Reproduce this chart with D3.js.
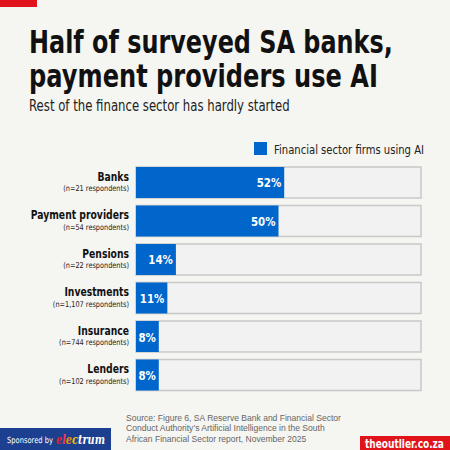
<!DOCTYPE html>
<html>
<head>
<meta charset="utf-8">
<script src="https://cdn.jsdelivr.net/npm/d3@7"></script>
<style>
  body { margin: 0; background: #f5f5f1; }
  svg { display: block; }
  text { font-family: "DejaVu Sans", sans-serif; }
</style>
</head>
<body>
<div id="chart"></div>
<script>
const W = 450, H = 450;

// data
const sectors = ["Banks", "Payment providers", "Pensions", "Investments", "Insurance", "Lenders"];
const respondents = ["n=21 respondents", "n=54 respondents", "n=22 respondents", "n=1,107 respondents", "n=744 respondents", "n=102 respondents"];
const usingAI = [52, 50, 14, 11, 8, 8];
const seriesName = "Financial sector firms using AI";
const titleLines = ["Half of surveyed SA banks,", "payment providers use AI"];
const subtitle = "Rest of the finance sector has hardly started";
const sourceLines = [
  "Source: Figure 6, SA Reserve Bank and Financial Sector",
  "Conduct Authority’s Artificial Intelligence in the South",
  "African Financial Sector report, November 2025"
];

const blue = "#0066cc";

// squeeze text horizontally to mimic a condensed face
function squeeze(sel, k) {
  sel.each(function() {
    const t = d3.select(this);
    const x = +t.attr("x") || 0, y = +t.attr("y") || 0;
    t.attr("x", 0).attr("y", 0)
      .attr("transform", `translate(${x},${y}) scale(${k},1)`);
  });
}
// squeeze to a given width
function fitTo(sel, w) {
  sel.each(function() {
    const len = this.getComputedTextLength();
    squeeze(d3.select(this), w / len);
  });
}

const svg = d3.select("#chart").append("svg")
  .attr("width", W).attr("height", H);

svg.append("rect").attr("width", W).attr("height", H).attr("fill", "#f5f5f1");

// red tab top left
svg.append("rect").attr("x", 0).attr("y", 0).attr("width", 37).attr("height", 7).attr("fill", "#e1141b");

// title
const titleW = [364, 349];
titleLines.forEach((t, i) => {
  svg.append("text")
    .attr("x", 29).attr("y", 53 + i * 34)
    .attr("font-size", 31.5).attr("font-weight", 700)
    .attr("fill", "#111")
    .text(t)
    .call(fitTo, titleW[i]);
});
svg.append("text")
  .attr("x", 29).attr("y", 111)
  .attr("font-size", 15).attr("fill", "#222")
  .text(subtitle)
  .call(fitTo, 261);

// legend
svg.append("rect").attr("x", 254).attr("y", 142).attr("width", 13).attr("height", 13).attr("fill", blue);
svg.append("text")
  .attr("x", 274).attr("y", 153.5)
  .attr("font-size", 13).attr("fill", "#222")
  .text(seriesName)
  .call(fitTo, 150);

// scales
const x = d3.scaleLinear().domain([0, 100]).range([136, 421]);
const y = d3.scaleBand().domain(sectors).range([167, 390.5]).paddingInner(0.195).paddingOuter(0);

const rows = svg.append("g").selectAll("g").data(sectors).join("g");

// track
rows.append("rect")
  .attr("x", x(0)).attr("y", d => y(d))
  .attr("width", x(100) - x(0)).attr("height", y.bandwidth())
  .attr("fill", "#f2f2f2").attr("stroke", "#c8c8c8").attr("stroke-width", 1.5);

// value bars
rows.append("rect")
  .attr("x", x(0)).attr("y", d => y(d))
  .attr("width", (d, i) => x(usingAI[i]) - x(0)).attr("height", y.bandwidth())
  .attr("fill", blue);

rows.append("text")
  .attr("x", (d, i) => x(usingAI[i]) - 3)
  .attr("y", d => y(d) + y.bandwidth() / 2 + 5)
  .attr("text-anchor", "end")
  .attr("font-size", 13).attr("font-weight", 700).attr("fill", "#fff")
  .text((d, i) => usingAI[i] + "%")
  .call(squeeze, 0.79);

// category labels
rows.append("text")
  .attr("x", 129).attr("y", d => y(d) + 13.9)
  .attr("text-anchor", "end")
  .attr("font-size", 12.5).attr("font-weight", 700).attr("fill", "#111")
  .text(d => d)
  .call(squeeze, 0.74);
rows.append("text")
  .attr("x", 129).attr("y", d => y(d) + 24.2)
  .attr("text-anchor", "end")
  .attr("font-size", 8).attr("fill", "#222")
  .text((d, i) => "(" + respondents[i] + ")")
  .call(squeeze, 0.82);

// source
svg.append("g").selectAll("text").data(sourceLines).join("text")
  .attr("x", 126).attr("y", (d, i) => 421 + i * 10.3)
  .style("font-family", "Liberation Sans, Arial, sans-serif")
  .attr("font-size", 9.4).attr("fill", "#666")
  .text(d => d)
  .call(squeeze, 0.91);

// sponsor box
svg.append("rect").attr("x", 0).attr("y", 428).attr("width", 111).attr("height", 22).attr("fill", "#1d3f8f");
svg.append("text")
  .attr("x", 7).attr("y", 443)
  .attr("font-size", 8.5).attr("fill", "#fff")
  .text("Sponsored by")
  .call(fitTo, 46);
const logoColors = ["#e4242b", "#ea3a6a", "#f39200", "#f2c500", "#ffffff", "#ffffff", "#ffffff", "#ffffff"];
const logo = svg.append("text")
  .attr("x", 56).attr("y", 444)
  .style("font-family", "DejaVu Serif, serif").attr("font-style", "italic").attr("font-weight", 700)
  .attr("font-size", 13);
"electrum".split("").forEach((c, i) => {
  logo.append("tspan").attr("fill", logoColors[i]).text(c);
});
logo.call(fitTo, 49);

// outlier box
svg.append("rect").attr("x", 360).attr("y", 436).attr("width", 90).attr("height", 14).attr("fill", "#e1141b");
svg.append("text")
  .attr("x", 365).attr("y", 447.5)
  .attr("font-size", 11.5).attr("font-weight", 700).attr("fill", "#fff")
  .text("theoutlier.co.za")
  .call(fitTo, 79);
</script>
</body>
</html>
